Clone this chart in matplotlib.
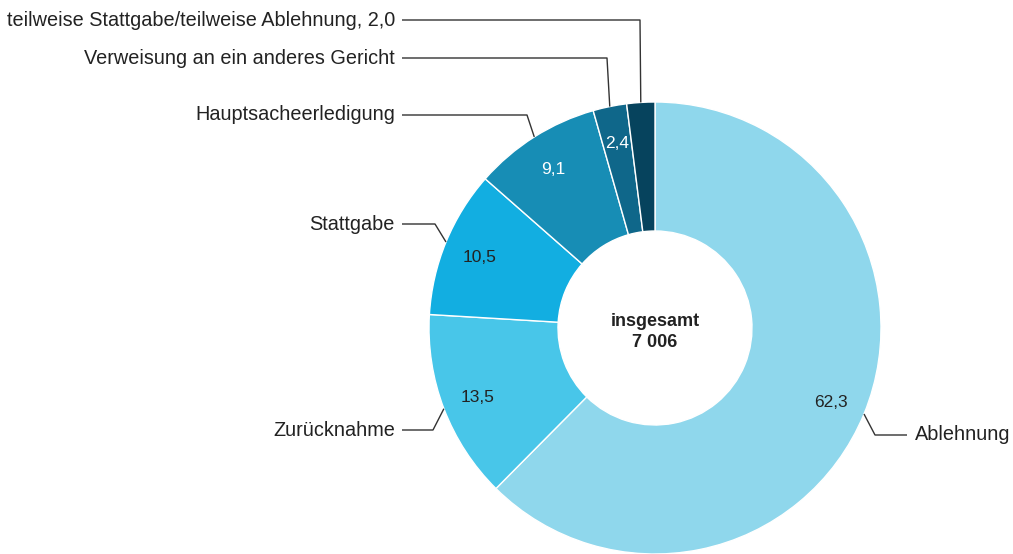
import numpy as np
import matplotlib
matplotlib.use("Agg")
import matplotlib.pyplot as plt

categories = ["Ablehnung", "Zurücknahme", "Stattgabe", "Hauptsacheerledigung",
              "Verweisung an ein anderes Gericht",
              "teilweise Stattgabe/teilweise Ablehnung"]
shares = [62.3, 13.5, 10.5, 9.1, 2.4, 2.0]
total_label = "insgesamt\n7 006"

colors = ["#8fd7ec", "#48c6e9", "#12aee1", "#178db5", "#0f678a", "#06435d"]
value_colors = ["#222222", "#222222", "#222222", "white", "white", None]
# label layout in pixel coords (image y downward): (label y, elbow x, side)
leader_layout = [(435, 875, "right"), (430, 433, "left"), (224, 435, "left"),
                 (115, 527, "left"), (58, 607, "left"), (20, 640, "left")]

plt.rcParams["font.family"] = ["Liberation Sans", "DejaVu Sans"]

W, H = 1013, 554
fig = plt.figure(figsize=(W / 100, H / 100), dpi=100)
ax = fig.add_axes([0, 0, 1, 1])

cx, cy = 655, H - 328
R, r_in = 226, 97

wedges, _ = ax.pie(shares, colors=colors, startangle=90, counterclock=False,
                   center=(cx, cy), radius=R,
                   wedgeprops=dict(width=R - r_in, edgecolor="white", linewidth=1))

def fmt(v):
    return f"{v:.1f}".replace(".", ",")

for w, name, val, vc, (ly, ex, side) in zip(wedges, categories, shares,
                                              value_colors, leader_layout):
    mid = np.deg2rad((w.theta1 + w.theta2) / 2)
    # value inside the ring
    if vc is not None:
        ax.text(cx + 190 * np.cos(mid), cy + 190 * np.sin(mid) - 2, fmt(val),
                ha="center", va="center", fontsize=12.5, color=vc)
        label = name
    else:
        label = f"{name}, {fmt(val)}"
    sx, sy = cx + R * np.cos(mid), cy + R * np.sin(mid)
    ly_d = H - ly
    if side == "right":
        hx = ex + 32
        tx, ha = hx + 8, "left"
    else:
        hx = 402
        tx, ha = 395, "right"
    ax.plot([sx, ex, hx], [sy, ly_d, ly_d], color="#333333", lw=1,
            solid_capstyle="butt")
    ax.text(tx, ly_d, label, ha=ha, va="center", fontsize=14.3, color="#222222")

ax.text(cx, cy - 4, total_label, ha="center", va="center", fontsize=13,
        fontweight="bold", color="#222222", linespacing=1.25)

ax.set_xlim(0, W)
ax.set_ylim(0, H)
ax.set_aspect("equal")
ax.axis("off")

fig.savefig("out.png", dpi=100)
